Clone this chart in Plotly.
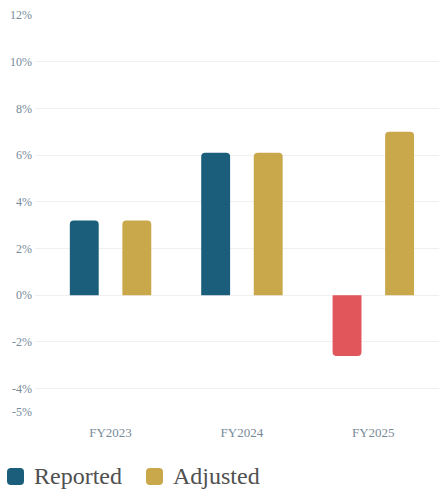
import plotly.graph_objects as go

# Growth by fiscal year, in percent
categories = ["FY2023", "FY2024", "FY2025"]
reported = [3.2, 6.1, -2.6]
adjusted = [3.2, 6.1, 7.0]

y_ticks = [-5, -4, -2, 0, 2, 4, 6, 8, 10, 12]
y_tick_labels = [f"{v}%" for v in y_ticks]

BLUE = "#1B5E7B"
GOLD = "#C9A74B"
RED = "#E0565A"
NEG_COLOR = RED
TICK_COLOR = "#778A99"
LEGEND_TEXT = "#505050"
GRID = "#F0F0F0"
FONT = "Liberation Serif, Georgia, serif"

reported_colors = [BLUE if v >= 0 else NEG_COLOR for v in reported]

fig = go.Figure()
fig.add_trace(go.Bar(x=categories, y=reported, name="Reported",
                     marker=dict(color=reported_colors, line=dict(width=0)),
                     showlegend=False, hoverinfo="x+y"))
fig.add_trace(go.Bar(x=categories, y=adjusted, name="Adjusted",
                     marker=dict(color=GOLD, line=dict(width=0)),
                     showlegend=False, hoverinfo="x+y"))

# Custom legend under the chart: rounded swatches + labels, placed in pixels
# relative to the bottom-left corner of the plot area.
def rounded_square(x0, y0, size, r):
    x1, y1 = x0 + size, y0 + size
    return (f"M{x0+r},{y0} L{x1-r},{y0} Q{x1},{y0} {x1},{y0+r} "
            f"L{x1},{y1-r} Q{x1},{y1} {x1-r},{y1} L{x0+r},{y1} "
            f"Q{x0},{y1} {x0},{y1-r} L{x0},{y0+r} Q{x0},{y0} {x0+r},{y0} Z")

legend_items = [("Reported", BLUE, -28, -3), ("Adjusted", GOLD, 111, 136)]
for label, color, sx, tx in legend_items:
    fig.add_shape(type="path", xref="paper", yref="paper",
                  xsizemode="pixel", ysizemode="pixel",
                  xanchor=0, yanchor=0,
                  path=rounded_square(sx, -73, 17, 4),
                  fillcolor=color, line=dict(width=0))
    fig.add_annotation(text=label, xref="paper", yref="paper", x=0, y=0,
                       xanchor="left", yanchor="middle", xshift=tx, yshift=-64,
                       showarrow=False,
                       font=dict(family=FONT, size=24, color=LEGEND_TEXT))

fig.update_layout(
    width=445, height=498,
    margin=dict(l=35, r=6, t=15, b=86),
    paper_bgcolor="white", plot_bgcolor="white",
    barmode="group", bargap=0.2, bargroupgap=0.45,
    barcornerradius=4,
    font=dict(family=FONT, color=TICK_COLOR, size=12),
    showlegend=False,
)
fig.update_xaxes(range=[-0.575, 2.5], showgrid=False, zeroline=False,
                 showline=False, ticks="", ticklabelstandoff=11,
                 tickfont=dict(family=FONT, size=13, color=TICK_COLOR))
fig.update_yaxes(range=[-5, 12], tickvals=y_ticks, ticktext=y_tick_labels,
                 showgrid=True, gridcolor=GRID, gridwidth=1,
                 zeroline=True, zerolinecolor=GRID, zerolinewidth=1,
                 showline=False, ticks="", ticklabelstandoff=2,
                 tickfont=dict(family=FONT, size=12, color=TICK_COLOR))

fig.write_html("out.html")
